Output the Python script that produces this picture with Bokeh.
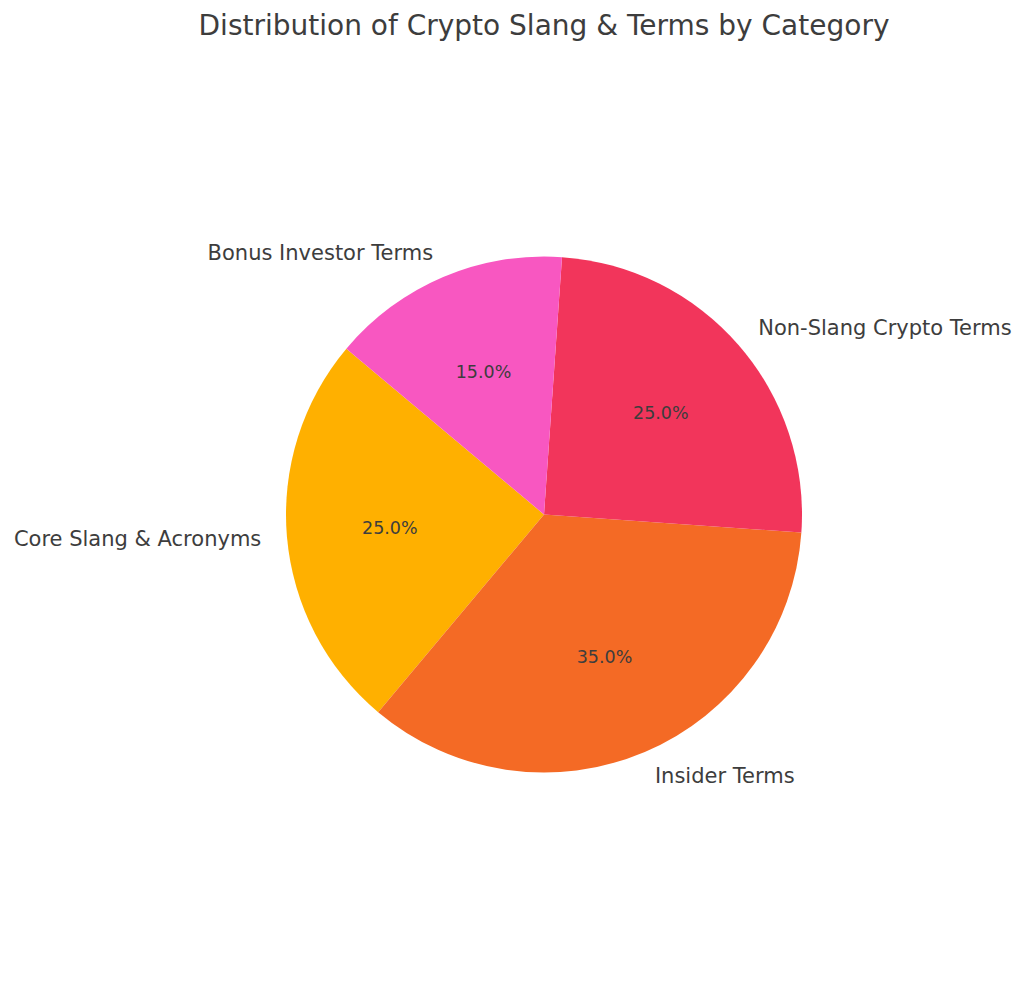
import numpy as np
from bokeh.plotting import figure
from bokeh.models import Range1d, ColumnDataSource
from bokeh.core.properties import value
from bokeh.embed import file_html
from bokeh.resources import INLINE

title = "Distribution of Crypto Slang & Terms by Category"
categories = ["Core Slang & Acronyms", "Insider Terms", "Non-Slang Crypto Terms", "Bonus Investor Terms"]
shares = [25, 35, 25, 15]
colors = ["#FFB000", "#F46A25", "#F2355B", "#F857C1"]
start_deg = 140.0

W, H = 1016, 981
R_PX = 258.0
CX, CY = 543.5, 514.0  # pie centre in figure pixels

p = figure(width=W, height=H, output_backend="svg", toolbar_location=None,
           min_border=0, x_range=Range1d(-CX / R_PX, (W - CX) / R_PX),
           y_range=Range1d(-(H - CY) / R_PX, CY / R_PX))
p.axis.visible = False
p.grid.visible = False
p.outline_line_color = None
p.background_fill_color = "white"
p.border_fill_color = "white"

vals = np.array(shares, dtype=float)
frac = vals / vals.sum()
ends = np.deg2rad(start_deg) + np.cumsum(frac) * 2 * np.pi
starts = ends - frac * 2 * np.pi
mids = (starts + ends) / 2

src = ColumnDataSource(dict(start=starts, end=ends, color=colors))
p.wedge(x=0, y=0, radius=1, start_angle="start", end_angle="end",
        direction="anticlock", fill_color="color", line_color=None, source=src)

font = value("DejaVu Sans")
txt = "#3d3d3d"
lx = 1.1 * np.cos(mids)
ly = 1.1 * np.sin(mids)
align = ["left" if x > 0 else "right" for x in lx]
p.text(x=lx, y=ly, text=categories, text_align=align, text_baseline="middle",
       text_font=font, text_font_size="21px", text_color=txt)

px = 0.6 * np.cos(mids)
py = 0.6 * np.sin(mids)
p.text(x=px, y=py, text=[f"{v:.1f}%" for v in frac * 100], text_align="center",
       text_baseline="middle", text_font=font, text_font_size="17.5px", text_color=txt)

p.text(x=[0.0], y=[(CY - 25) / R_PX], text=[title], text_align="center",
       text_baseline="middle", text_font=font, text_font_size="28px", text_color=txt)

open("out.html", "w").write(file_html(p, INLINE))
